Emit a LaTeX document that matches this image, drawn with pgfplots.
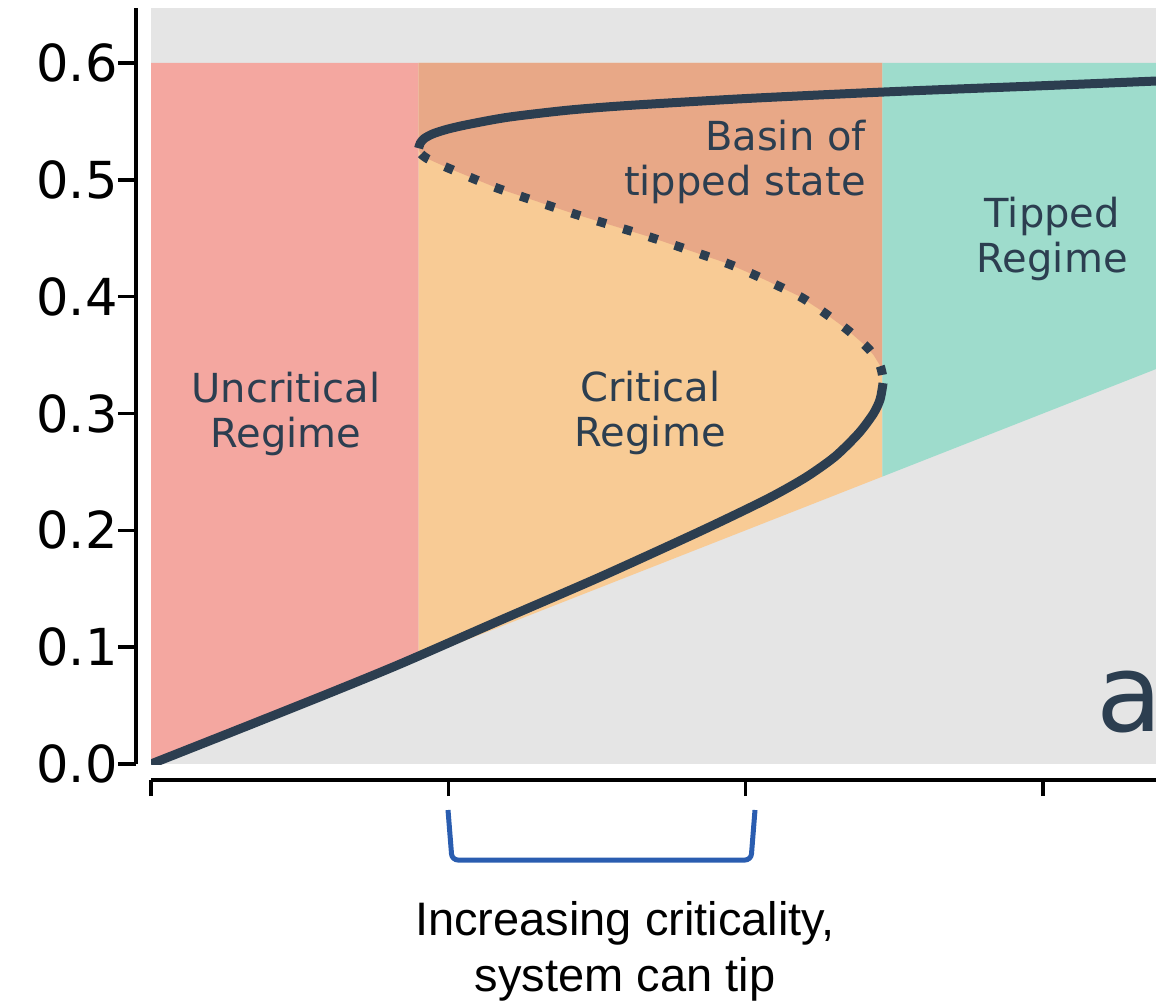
\documentclass[border=0pt]{standalone}
\usepackage{fontspec}
\setmainfont{DejaVu Sans}
\newfontfamily\arialfont{Liberation Sans}
\usepackage{pgfplots}
\pgfplotsset{compat=1.18}
\definecolor{bggray}{HTML}{E5E5E5}
\definecolor{cred}{HTML}{F4A7A0}
\definecolor{corange}{HTML}{F8CB95}
\definecolor{cbasin}{HTML}{E8A887}
\definecolor{cteal}{HTML}{9EDCCC}
\definecolor{cline}{HTML}{2C3E50}
\definecolor{cblue}{HTML}{2A5DB0}
\begin{document}
\begin{tikzpicture}
\begin{axis}[
  at={(0pt,0pt)}, anchor=south west,
  scale only axis, width=502.5pt, height=378pt,
  xmin=0, xmax=3.38, ymin=0, ymax=0.647,
  axis lines=none, xtick=\empty, ytick=\empty,
  axis background/.style={fill=bggray},
]
% regions
\addplot[fill=cred, draw=none] coordinates {(0,0) (0.9,0.09) (0.9,0.6) (0,0.6)} -- cycle;
\addplot[fill=corange, draw=none] coordinates {(0.9,0.09) (2.46,0.246) (2.46,0.6) (0.9,0.6)} -- cycle;
\addplot[fill=cbasin, draw=none] coordinates {(2.46,0.333) (2.452,0.341) (2.43,0.350) (2.407,0.357) (2.34,0.372) (2.26,0.387) (2.183,0.400) (2.06,0.415) (1.936,0.4286) (1.678,0.451) (1.421,0.471) (1.163,0.493) (1.0,0.510) (0.93,0.518) (0.905,0.523) (0.9,0.527) (0.9,0.6) (2.46,0.6)} -- cycle;
\addplot[fill=cteal, draw=none] coordinates {(2.46,0.246) (3.38,0.338) (3.38,0.6) (2.46,0.6)} -- cycle;
% curve: lower stable branch
\addplot[cline, line width=4.5pt, line cap=butt, line join=round, smooth, tension=0.45] coordinates {
(0,0) (0.3,0.0302) (0.6,0.0607) (0.84,0.0858) (1.17,0.1225) (1.51,0.160) (1.85,0.1995) (2.07,0.2265) (2.2,0.245) (2.3,0.263) (2.38,0.283) (2.43,0.300) (2.452,0.312) (2.462,0.326)};
% unstable branch
\addplot[cline, line width=4.5pt, line cap=butt, dash pattern=on 4.5pt off 9pt, smooth, tension=0.45] coordinates {
(2.46,0.333) (2.452,0.341) (2.43,0.350) (2.407,0.357) (2.34,0.372) (2.26,0.387) (2.183,0.400) (2.06,0.415) (1.936,0.4286) (1.678,0.451) (1.421,0.471) (1.163,0.493) (1.0,0.510) (0.93,0.518) (0.905,0.523) (0.9,0.527)};
% upper stable branch
\addplot[cline, line width=4.5pt, line cap=butt, line join=round, smooth, tension=0.45] coordinates {
(0.9,0.527) (0.906,0.5315) (0.92,0.5355) (0.95,0.5395) (1.0,0.5435) (1.07,0.5475) (1.2,0.5535) (1.4,0.5595) (1.6,0.5635) (2.0,0.5695) (2.5,0.5755) (3.0,0.5805) (3.38,0.5845)};
% labels
\begin{scope}[every node/.style={text=cline, inner sep=0pt, font=\fontsize{20}{24}\selectfont}]
\node[anchor=base] at (axis cs:0.454,0.309) {Uncritical};
\node[anchor=base] at (axis cs:0.454,0.2705) {Regime};
\node[anchor=base] at (axis cs:1.679,0.310) {Critical};
\node[anchor=base] at (axis cs:1.679,0.2713) {Regime};
\node[anchor=base east] at (axis cs:2.405,0.5248) {Basin of};
\node[anchor=base east] at (axis cs:2.405,0.4863) {tipped state};
\node[anchor=base] at (axis cs:3.031,0.4588) {Tipped};
\node[anchor=base] at (axis cs:3.031,0.4203) {Regime};
\node[anchor=base west, font=\fontsize{54}{60}\selectfont] at (axis cs:3.179,0.0274) {a};
\end{scope}
\end{axis}
% offset y spine
\begin{axis}[
  at={(-7.5pt,0pt)}, anchor=south west,
  scale only axis, width=10pt, height=378pt,
  xmin=0, xmax=1, ymin=0, ymax=0.647,
  axis x line=none, axis y line=left,
  axis line style={-, line width=1.8pt, black},
  ytick={0,0.1,0.2,0.3,0.4,0.5,0.6},
  yticklabels={0.0,0.1,0.2,0.3,0.4,0.5,0.6},
  tick align=outside, major tick length=9pt,
  tick style={line width=1.8pt, black},
  yticklabel style={font=\fontsize{25.5}{30}\selectfont, inner sep=0pt, anchor=east},
]
\end{axis}
% offset x spine
\begin{axis}[
  at={(0pt,-8pt)}, anchor=south west,
  scale only axis, width=502.5pt, height=10pt,
  xmin=0, xmax=3.38, ymin=0, ymax=1,
  axis y line=none, axis x line=bottom,
  axis line style={-, line width=1.8pt, black},
  xtick={0,1,2,3}, xticklabels={},
  tick align=outside, major tick length=8pt,
  tick style={line width=1.8pt, black},
]
\end{axis}
% bracket and caption
\draw[cblue, line width=2.5pt, rounded corners=3pt] (148.5pt,-23pt) -- (150.5pt,-48pt) -- (300pt,-48pt) -- (302pt,-23pt);
\node[anchor=base, inner sep=0pt, font=\arialfont\fontsize{23.5}{28}\selectfont] at (237pt,-85.5pt) {Increasing criticality,};
\node[anchor=base, inner sep=0pt, font=\arialfont\fontsize{23.5}{28}\selectfont] at (237pt,-113.5pt) {system can tip};
\pgfresetboundingbox
\path (-75.5pt,-118.5pt) rectangle (502.5pt,382pt);
\end{tikzpicture}
\end{document}
